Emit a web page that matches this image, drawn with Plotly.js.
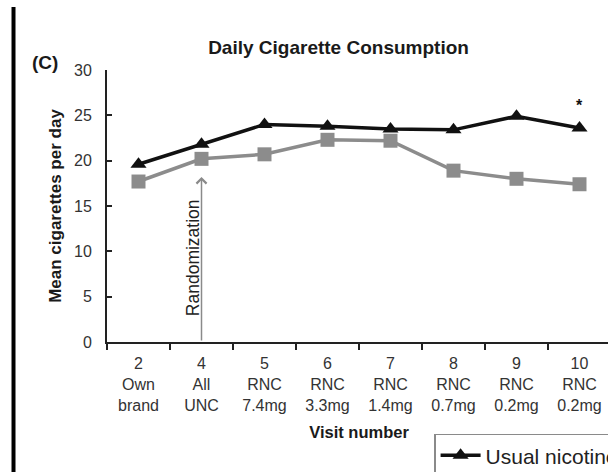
<!DOCTYPE html>
<html>
<head>
<meta charset="utf-8">
<script src="https://cdn.plot.ly/plotly-3.0.1.min.js"></script>
<style>
html, body { margin: 0; padding: 0; overflow: hidden; background: #fff; }
#chart { width: 700px; height: 472px; }
</style>
</head>
<body>
<div id="chart"></div>
<script>
var categories = ["2<br>Own<br>brand", "4<br>All<br>UNC", "5<br>RNC<br>7.4mg", "6<br>RNC<br>3.3mg",
                  "7<br>RNC<br>1.4mg", "8<br>RNC<br>0.7mg", "9<br>RNC<br>0.2mg", "10<br>RNC<br>0.2mg"];
var usualNicotine = [19.6, 21.8, 24.0, 23.8, 23.5, 23.4, 24.9, 23.6];
var reducedNicotine = [17.7, 20.2, 20.7, 22.3, 22.2, 18.9, 18.0, 17.4];
var seriesNames = ["Usual nicotine content", "Reduced nicotine content"];
var yTicks = [0, 5, 10, 15, 20, 25, 30];

var FONT = "Liberation Sans, Arial, Helvetica, sans-serif";

var traces = [
  {
    x: categories, y: reducedNicotine, name: seriesNames[1], type: "scatter", mode: "lines+markers",
    line: {color: "#8c8c8c", width: 3.5},
    marker: {symbol: "square", size: 14, color: "#8c8c8c"},
    legendrank: 2
  },
  {
    x: categories, y: usualNicotine, name: seriesNames[0], type: "scatter", mode: "lines+markers",
    line: {color: "#111111", width: 3.5},
    marker: {symbol: "triangle-up", size: 14, color: "#111111"},
    legendrank: 1
  }
];

var layout = {
  width: 700, height: 472,
  margin: {l: 107, r: 89, t: 70, b: 130, autoexpand: false},
  paper_bgcolor: "#ffffff", plot_bgcolor: "#ffffff",
  font: {family: FONT, color: "#333333", size: 16},
  showlegend: true,
  title: {
    text: "<b>Daily Cigarette Consumption</b>",
    x: 0.4836, xanchor: "center", xref: "container",
    y: 0.900, yanchor: "middle", yref: "container",
    font: {family: FONT, size: 19, color: "#1a1a1a"}
  },
  xaxis: {
    type: "category",
    categoryorder: "array", categoryarray: categories,
    range: [-0.5, 7.5],
    tickson: "boundaries",
    ticks: "outside", ticklen: 6, tickwidth: 2, tickcolor: "#222",
    showline: true, linecolor: "#222", linewidth: 2,
    showgrid: false, zeroline: false,
    tickfont: {family: FONT, size: 16, color: "#333"},
    ticklabelstandoff: 6,
    title: {text: "<b>Visit number</b>", font: {family: FONT, size: 16.5, color: "#1a1a1a"}, standoff: 14},
    automargin: false
  },
  yaxis: {
    range: [0, 30],
    tickvals: yTicks,
    ticks: "inside", ticklen: 5, tickwidth: 2, tickcolor: "#222",
    showline: true, linecolor: "#222", linewidth: 2,
    showgrid: false, zeroline: false,
    tickfont: {family: FONT, size: 16, color: "#333"},
    ticklabelstandoff: 10,
    title: {text: "<b>Mean cigarettes per day</b>", font: {family: FONT, size: 17, color: "#1a1a1a"}, standoff: 8},
    automargin: false
  },
  legend: {
    x: 0.649, xanchor: "left", y: -0.337, yanchor: "top",
    bordercolor: "#8a8a8a", borderwidth: 1.5, bgcolor: "#ffffff",
    font: {family: FONT, size: 21, color: "#222"},
    itemwidth: 40,
    orientation: "v"
  },
  shapes: [
    {type: "line", xref: "paper", yref: "paper", x0: -0.1855, x1: -0.1855, y0: -0.6, y1: 1.2316,
     line: {color: "#000", width: 4}}
  ],
  annotations: [
    {x: 1, y: 18.2, ax: 1, ay: 0, xref: "x", yref: "y", axref: "x", ayref: "y",
     showarrow: true, arrowhead: 4, arrowsize: 1.3, arrowwidth: 1.5, arrowcolor: "#8a8a8a", standoff: 0, text: ""},
    {x: 1, y: 9.3, xref: "x", yref: "y", text: "Randomization", textangle: -90, showarrow: false,
     xshift: -9, font: {family: FONT, size: 17.5, color: "#222"}},
    {x: 7, y: 26.1, xref: "x", yref: "y", text: "<b>*</b>", showarrow: false,
     font: {family: FONT, size: 16, color: "#111"}},
    {x: -0.123, y: 1.029, xref: "paper", yref: "paper", xanchor: "center", yanchor: "middle",
     text: "<b>(C)</b>", showarrow: false,
     font: {family: FONT, size: 19, color: "#1a1a1a"}}
  ]
};

Plotly.newPlot("chart", traces, layout, {displayModeBar: false, staticPlot: true});
</script>
</body>
</html>
